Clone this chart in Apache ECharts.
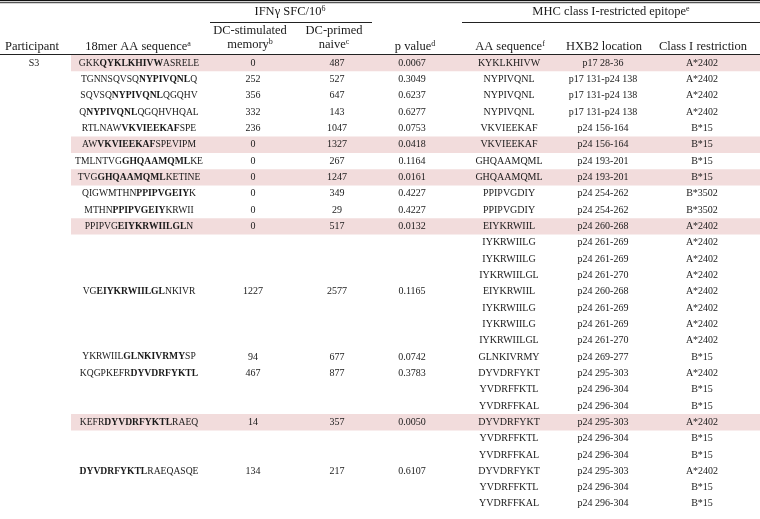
<!DOCTYPE html>
<html>
<head>
<meta charset="utf-8">
<script src="https://cdn.jsdelivr.net/npm/echarts@6/dist/echarts.min.js"></script>
<style>html,body{margin:0;padding:0;background:#fff}#c{width:760px;height:519px}</style>
</head>
<body>
<div id="c"></div>
<script>
// ---- data ----
const participant = ["S3"];
const participantRows = [0];
const seqRows = [0,1,2,3,4,5,6,7,8,9,10,14,18,19,22,25];
const seq18 = [
  "GKK[QYKLKHIVW]ASRELE","TGNNSQVSQ[NYPIVQNL]Q","SQVSQ[NYPIVQNL]QGQHV","Q[NYPIVQNL]QGQHVHQAL",
  "RTLNAW[VKVIEEKAF]SPE","AW[VKVIEEKAF]SPEVIPM","TMLNTVG[GHQAAMQML]KE","TVG[GHQAAMQML]KETINE",
  "QIGWMTHN[PPIPVGEIY]K","MTHN[PPIPVGEIY]KRWII","PPIPVG[EIYKRWIILGL]N","VG[EIYKRWIILGL]NKIVR",
  "YKRWIIL[GLNKIVRMY]SP","KQGPKEFR[DYVDRFYKTL]","KEFR[DYVDRFYKTL]RAEQ","[DYVDRFYKTL]RAEQASQE"
];
const memory = [0,252,356,332,236,0,0,0,0,0,0,1227,94,467,14,134];
const naive = [487,527,647,143,1047,1327,267,1247,349,29,517,2577,677,877,357,217];
const pValue = ["0.0067","0.3049","0.6237","0.6277","0.0753","0.0418","0.1164","0.0161","0.4227","0.4227","0.0132","0.1165","0.0742","0.3783","0.0050","0.6107"];
const epitope = ["KYKLKHIVW","NYPIVQNL","NYPIVQNL","NYPIVQNL","VKVIEEKAF","VKVIEEKAF","GHQAAMQML","GHQAAMQML",
  "PPIPVGDIY","PPIPVGDIY","EIYKRWIIL","IYKRWIILG","IYKRWIILG","IYKRWIILGL","EIYKRWIIL","IYKRWIILG","IYKRWIILG",
  "IYKRWIILGL","GLNKIVRMY","DYVDRFYKT","YVDRFFKTL","YVDRFFKAL","DYVDRFYKT","YVDRFFKTL","YVDRFFKAL",
  "DYVDRFYKT","YVDRFFKTL","YVDRFFKAL"];
const hxb2 = ["p17 28-36","p17 131-p24 138","p17 131-p24 138","p17 131-p24 138","p24 156-164","p24 156-164",
  "p24 193-201","p24 193-201","p24 254-262","p24 254-262","p24 260-268","p24 261-269","p24 261-269","p24 261-270",
  "p24 260-268","p24 261-269","p24 261-269","p24 261-270","p24 269-277","p24 295-303","p24 296-304","p24 296-304",
  "p24 295-303","p24 296-304","p24 296-304","p24 295-303","p24 296-304","p24 296-304"];
const restriction = ["A*2402","A*2402","A*2402","A*2402","B*15","B*15","B*15","B*15","B*3502","B*3502",
  "A*2402","A*2402","A*2402","A*2402","A*2402","A*2402","A*2402","A*2402","B*15","A*2402","B*15","B*15",
  "A*2402","B*15","B*15","A*2402","B*15","B*15"];
const shadedRows = [0,5,7,10,22];
const headers = {
  participant: "Participant",
  seq: "18mer AA sequence{sup|a}",
  ifn: "IFNγ SFC/10{sup|6}",
  mem1: "DC-stimulated", mem2: "memory{sup|b}",
  nai1: "DC-primed", nai2: "naive{sup|c}",
  p: "p value{sup|d}",
  mhc: "MHC class I-restricted epitope{sup|e}",
  aa: "AA sequence{sup|f}",
  hxb2: "HXB2 location",
  hla: "Class I restriction"
};

// ---- layout ----
const FONT = '"Liberation Serif", "Times New Roman", serif';
const TXT = '#1a1a1a';
const colX = { part: 34, seq: 139, mem: 253, nai: 337, p: 412, aa: 509, hxb2: 603, hla: 702 };
const nRows = epitope.length;
const shadeLeft = 71;
const HF = 12.5;

const chart = echarts.init(document.getElementById('c'), null, { renderer: 'canvas' });

const rich = {
  b: { fontWeight: 'bold', fontSize: 9.6, fontFamily: FONT, fill: TXT },
  n: { fontSize: 9.6, fontFamily: FONT, fill: TXT }
};
function toRich(s) {
  return s.replace(/\[([^\]]+)\]/g, '{b|$1}');
}
function textSeries(col, rows, texts, isRich) {
  return {
    type: 'custom',
    silent: true,
    animation: false,
    clip: false,
    z: 3,
    data: rows.map(r => [colX[col], r]),
    renderItem: function (params, api) {
      const p = api.coord([api.value(0), api.value(1)]);
      const t = String(texts[params.dataIndex]);
      return {
        type: 'text',
        x: p[0], y: p[1],
        style: {
          text: isRich ? toRich(t) : t,
          rich: isRich ? rich : undefined,
          fontSize: isRich ? 9.6 : 10, fontFamily: FONT, fill: TXT,
          align: 'center', verticalAlign: 'middle'
        }
      };
    }
  };
}
const allRows = epitope.map((_, i) => i);

const supRich = {
  sup: { fontSize: 8, fontFamily: FONT, fill: TXT, verticalAlign: 'top', lineHeight: 14 },
};
function hText(x, y, text) {
  return {
    type: 'text', x: x, y: y, silent: true,
    style: {
      text: text, rich: supRich, fontSize: HF, fontFamily: FONT, fill: TXT,
      align: 'center', verticalAlign: 'middle', lineHeight: 14
    }
  };
}
function hLine(x1, x2, y, w, c) {
  return { type: 'line', silent: true, shape: { x1: x1, y1: y, x2: x2, y2: y }, style: { stroke: c || '#222', lineWidth: w || 1 } };
}

const option = {
  animation: false,
  backgroundColor: '#fff',
  grid: { left: 0, right: 0, top: 55, height: 457 },
  xAxis: { type: 'value', min: 0, max: 760, show: false },
  yAxis: { type: 'value', min: -0.5, max: nRows - 0.5, inverse: true, show: false },
  graphic: [
    hLine(0, 760, 0.5, 1, '#111'),
    hLine(0, 760, 2.5, 1.5, '#555'),
    hLine(210, 372, 22.5, 1, '#222'),
    hLine(462, 760, 22.5, 1, '#222'),
    hLine(0, 760, 54.5, 1, '#222'),
    hText(290, 12, headers.ifn),
    hText(611, 12, headers.mhc),
    hText(250, 31, headers.mem1),
    hText(250, 45, headers.mem2),
    hText(334, 31, headers.nai1),
    hText(334, 45, headers.nai2),
    hText(32, 47, headers.participant),
    hText(138, 47, headers.seq),
    hText(415, 47, headers.p),
    hText(510, 47, headers.aa),
    hText(604, 47, headers.hxb2),
    hText(703, 47, headers.hla)
  ],
  series: [
    {
      type: 'custom', silent: true, animation: false, z: 1,
      data: shadedRows.map(r => [shadeLeft, r]),
      renderItem: function (params, api) {
        const p = api.coord([api.value(0), api.value(1)]);
        const h = api.size([0, 1])[1];
        return { type: 'rect', shape: { x: p[0], y: p[1] - h / 2, width: 760 - p[0], height: h }, style: { fill: '#f2dcdc' } };
      }
    },
    textSeries('part', participantRows, participant, false),
    textSeries('seq', seqRows, seq18, true),
    textSeries('mem', seqRows, memory, false),
    textSeries('nai', seqRows, naive, false),
    textSeries('p', seqRows, pValue, false),
    textSeries('aa', allRows, epitope, false),
    textSeries('hxb2', allRows, hxb2, false),
    textSeries('hla', allRows, restriction, false)
  ]
};
chart.setOption(option);
</script>
</body>
</html>
